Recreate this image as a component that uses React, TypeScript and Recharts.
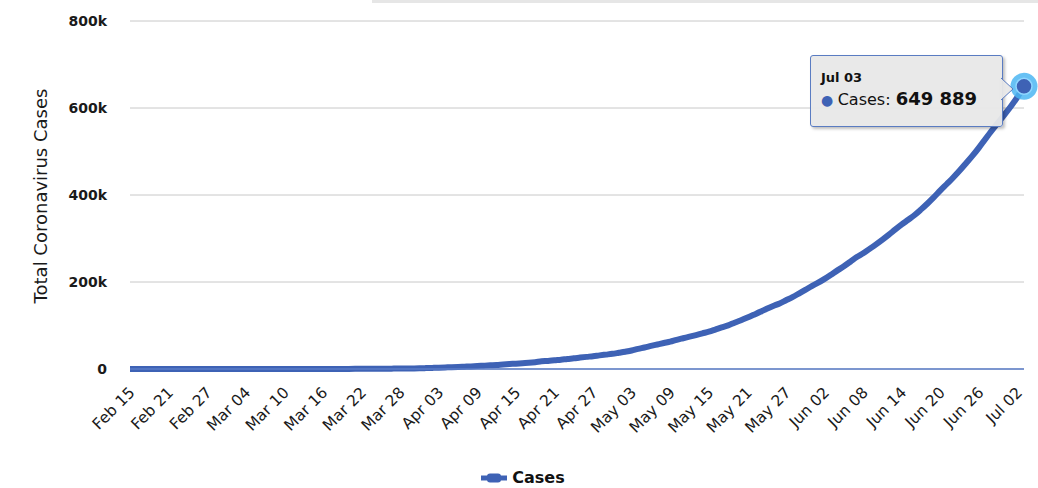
import React from 'react'
import { CartesianGrid, Line, LineChart, Tooltip, XAxis, YAxis } from 'recharts'

// month name, first day, last day shown on the axis
const MONTH_RANGES: [string, number, number][] = [
  ['Feb', 15, 29],
  ['Mar', 1, 31],
  ['Apr', 1, 30],
  ['May', 1, 31],
  ['Jun', 1, 30],
  ['Jul', 1, 3],
]

const FEB_CASES = [3, 3, 3, 3, 3, 3, 3, 3, 3, 3, 3, 3, 3, 3, 3]
const MAR_CASES = [
  3, 5, 6, 28, 30, 31, 34, 39, 48, 63, 71, 81, 91, 102, 112, 126, 146, 171, 198, 256, 334, 403, 497,
  571, 657, 730, 883, 1019, 1139, 1326, 1635,
]
const APR_CASES = [
  2059, 2545, 3105, 3684, 4293, 4778, 5351, 5916, 6725, 7598, 8446, 9205, 10453, 11487, 12322, 13430,
  14352, 15722, 17615, 18539, 20080, 21370, 23077, 24530, 26283, 27890, 29451, 31324, 33062, 34863,
]
const MAY_CASES = [
  37257, 39699, 42505, 46437, 49400, 52987, 56351, 59695, 62808, 67161, 70768, 74292, 78055, 81997,
  85784, 90648, 95698, 100328, 106475, 112028, 118226, 124794, 131423, 138536, 144950, 150793, 158086,
  165386, 173491, 181827, 190609,
]
const JUN_CASES = [
  198370, 207191, 216824, 226713, 236184, 246622, 257486, 265928, 276146, 286579, 297535, 308993,
  320922, 332424, 343091, 354065, 366946, 380532, 395048, 410451, 425282, 440215, 456183, 473105,
  490401, 508953, 528859, 548318, 566840, 585493,
]
const JUL_CASES = [604641, 625544, 649889]

const Y_TICKS = [0, 200000, 400000, 600000, 800000]

const LINE_COLOR = '#3e62b5'
const FONT = '"DejaVu Sans", Verdana, sans-serif'

const dates: string[] = []
MONTH_RANGES.forEach(([m, from, to]) => {
  for (let d = from; d <= to; d++) dates.push(`${m} ${String(d).padStart(2, '0')}`)
})
const cases = [...FEB_CASES, ...MAR_CASES, ...APR_CASES, ...MAY_CASES, ...JUN_CASES, ...JUL_CASES]
const data = dates.map((date, i) => ({ date, cases: cases[i] }))
const LAST = data.length - 1

const XTick = ({ x, y, payload }: any) => (
  <g transform={`translate(${x},${y})`}>
    <text
      x={0}
      y={0}
      dy={20}
      dx={-12}
      textAnchor="end"
      transform="rotate(-45)"
      fontSize={15.5}
      fontFamily={FONT}
      fill="#1a1a1a"
    >
      {payload.value}
    </text>
  </g>
)

const LastDot = (props: any) => {
  const { cx, cy, index } = props
  if (index !== LAST) return <g key={index} />
  return (
    <g key={index}>
      <circle cx={cx} cy={cy} r={13.5} fill="#4cb6f2" fillOpacity={0.85} />
      <circle cx={cx} cy={cy} r={8} fill={LINE_COLOR} stroke="#8fd6ff" strokeWidth={1.5} />
    </g>
  )
}

const TipBox = ({ active, payload }: any) => {
  if (!active || !payload || !payload.length) return null
  const p = payload[0]
  return (
    <div
      style={{
        position: 'relative',
        width: 193,
        height: 72,
        boxSizing: 'border-box',
        background: 'rgba(232,232,232,0.95)',
        border: '1px solid #5a7cc2',
        borderRadius: 3,
        boxShadow: '2px 2px 3px rgba(0,0,0,0.25)',
        fontFamily: FONT,
        padding: '14px 0 0 10px',
        color: '#111',
      }}
    >
      <div style={{ fontSize: 13, fontWeight: 'bold', lineHeight: '16px' }}>{p.payload.date}</div>
      <div style={{ fontSize: 16, lineHeight: '24px', marginTop: 1, whiteSpace: 'nowrap' }}>
        <span style={{ color: LINE_COLOR, fontSize: 14 }}>● </span>
        Cases: <b style={{ fontSize: 18 }}>{Number(p.value).toLocaleString('en-US').replace(/,/g, ' ')}</b>
      </div>
      <svg
        width={14}
        height={22}
        style={{ position: 'absolute', right: -13, top: 22, overflow: 'visible' }}
      >
        <path d="M0,0 L12,11 L0,22" fill="rgba(232,232,232,0.95)" stroke="#5a7cc2" strokeWidth={1} />
        <rect x={-2} y={1} width={2} height={20} fill="rgba(232,232,232,1)" />
      </svg>
    </div>
  )
}

export default function App() {
  return (
    <div style={{ position: 'absolute', left: 0, top: 0, width: 1038, height: 488, background: '#fff' }}>
      <div style={{ position: 'absolute', left: 372, top: 0, width: 666, height: 3, background: '#e6e6e6' }} />
      <LineChart width={1038} height={488} data={data} margin={{ top: 21, right: 14, left: 0, bottom: 59 }}>
        <CartesianGrid vertical={false} stroke="#c8c8c8" />
        <XAxis
          dataKey="date"
          interval={5}
          tick={<XTick />}
          tickLine={false}
          tickSize={0}
          height={60}
          axisLine={{ stroke: '#5a7cc8', strokeWidth: 1.5 }}
        />
        <YAxis
          domain={[0, 800000]}
          ticks={Y_TICKS}
          width={130}
          axisLine={false}
          tickLine={false}
          tickSize={0}
          tickMargin={23}
          tickFormatter={(v: number) => (v === 0 ? '0' : `${v / 1000}k`)}
          tick={{ fontSize: 14, fontWeight: 'bold', fill: '#1a1a1a', fontFamily: FONT }}
          label={{
            content: () => (
              <text
                x={47}
                y={196}
                transform="rotate(-90 47 196)"
                textAnchor="middle"
                fontSize={18}
                fontFamily={FONT}
                fill="#1a1a1a"
              >
                Total Coronavirus Cases
              </text>
            ),
          }}
        />
        <Tooltip
          active
          defaultIndex={LAST}
          cursor={false}
          position={{ x: 810, y: 55 }}
          content={<TipBox />}
          isAnimationActive={false}
          wrapperStyle={{ zIndex: 5 }}
        />
        <Line
          dataKey="cases"
          type="monotone"
          stroke={LINE_COLOR}
          strokeWidth={6}
          dot={<LastDot />}
          activeDot={false}
          isAnimationActive={false}
        />
      </LineChart>
      <div
        style={{
          position: 'absolute',
          left: 0,
          top: 468,
          width: 1038,
          display: 'flex',
          justifyContent: 'center',
          alignItems: 'center',
          fontFamily: FONT,
        }}
      >
        <svg width={26} height={12} style={{ marginRight: 5, marginLeft: 8 }}>
          <line x1={0} y1={6} x2={26} y2={6} stroke={LINE_COLOR} strokeWidth={5} />
          <rect x={6} y={1.5} width={14} height={9} rx={3} fill={LINE_COLOR} />
        </svg>
        <span style={{ fontSize: 16, fontWeight: 'bold', color: '#111' }}>Cases</span>
      </div>
    </div>
  )
}
